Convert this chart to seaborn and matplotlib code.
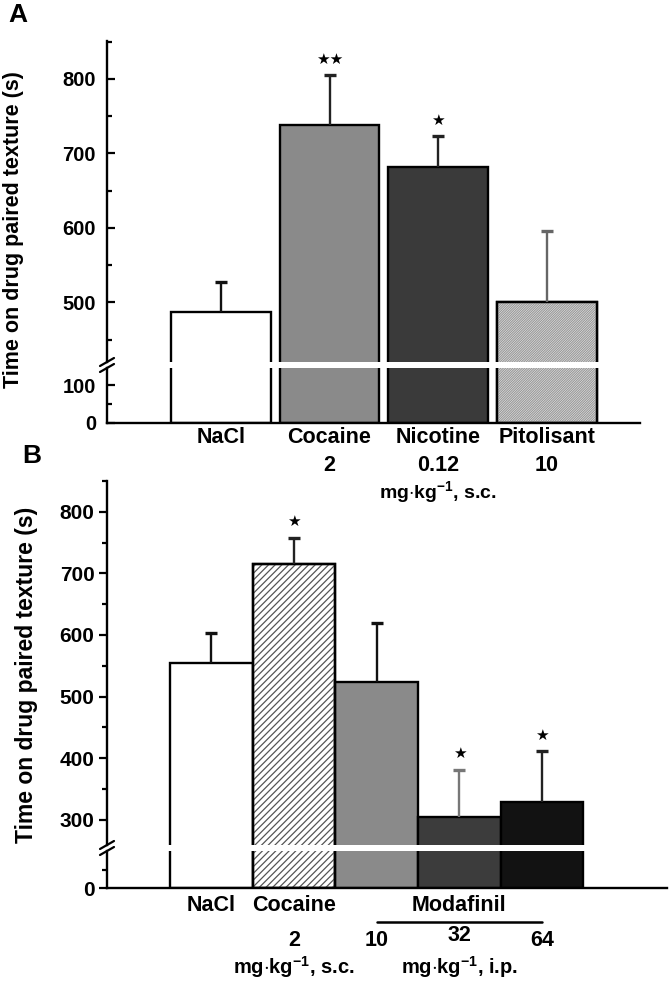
import numpy as np
import pandas as pd
import matplotlib
matplotlib.use("Agg")
import matplotlib.pyplot as plt
import matplotlib.transforms as mtransforms
from matplotlib.patches import Rectangle
import seaborn as sns

# ---------------- data ----------------
cats_a = ["NaCl", "Cocaine", "Nicotine", "Pitolisant"]
doses_a = ["", "2", "0.12", "10"]
mean_a = [487, 738, 682, 501]
sem_a = [40, 67, 41, 95]
stars_a = ["", "★★", "★", ""]

cats_b = ["NaCl", "Cocaine", "Modafinil 10", "Modafinil 32", "Modafinil 64"]
labels_b = ["NaCl", "Cocaine", "", "Modafinil", ""]
doses_b = ["", "2", "10", "32", "64"]
mean_b = [555, 716, 524, 305, 329]
sem_b = [48, 42, 95, 76, 82]
stars_b = ["", "★", "", "★", "★"]

ticks_a_up = [500, 600, 700, 800]
ticks_a_lo = [0, 100]
ticks_b_up = [300, 400, 500, 600, 700, 800]
ticks_b_lo = [0]

# ---------------- style ----------------
colors_a = ["#ffffff", "#8a8a8a", "#3a3a3a", "#ffffff"]
hatch_a = [None, None, None, "//////////////"]
hcol_a = [None, None, None, "#9a9a9a"]
colors_b = ["#ffffff", "#ffffff", "#8a8a8a", "#3c3c3c", "#121212"]
hatch_b = [None, "/////", None, None, None]
hcol_b = [None, "#555555", None, None, None]
errc_a = ["#111111", "#222222", "#222222", "#666666"]
errc_b = ["#111111", "#222222", "#111111", "#777777", "#222222"]

sns.set_theme(style="ticks")
plt.rcParams["font.family"] = ["Liberation Sans", "DejaVu Sans"]
plt.rcParams["font.weight"] = "bold"
plt.rcParams["text.color"] = "black"
plt.rcParams["axes.labelcolor"] = "black"
plt.rcParams["xtick.color"] = "black"
plt.rcParams["ytick.color"] = "black"
plt.rcParams["mathtext.fontset"] = "custom"
plt.rcParams["mathtext.rm"] = "Liberation Sans:bold"
plt.rcParams["mathtext.bf"] = "Liberation Sans:bold"
plt.rcParams["mathtext.default"] = "bf"
plt.rcParams["hatch.linewidth"] = 0.9

W, H = 670, 986
fig = plt.figure(figsize=(W / 100, H / 100), dpi=100)


def add_ax(x0, x1, ytop, ybot):
    ax = fig.add_axes([x0 / W, 1 - ybot / H, (x1 - x0) / W, (ybot - ytop) / H])
    ax.patch.set_alpha(0)
    return ax


def draw_bars(ax, cats, vals, colors, hatches, hcols, width, lw):
    df = pd.DataFrame({"cat": cats, "val": vals})
    sns.barplot(data=df, x="cat", y="val", hue="cat", palette=dict(zip(cats, colors)),
                legend=False, width=width, edgecolor="black", linewidth=lw,
                saturation=1, ax=ax, zorder=2)
    for p, h, hc in zip(list(ax.patches), hatches, hcols):
        if h:
            ax.add_patch(Rectangle((p.get_x(), p.get_y()), p.get_width(), p.get_height(),
                                   facecolor="none", edgecolor=hc, hatch=h,
                                   linewidth=0, zorder=2.1))
            ax.add_patch(Rectangle((p.get_x(), p.get_y()), p.get_width(), p.get_height(),
                                   facecolor="none", edgecolor="black", linewidth=lw,
                                   zorder=2.2))
    ax.set_xlabel("")
    ax.set_ylabel("")
    ax.tick_params(axis="x", length=0, labelbottom=False)


def style_y(ax, major, minor, direction, size):
    ax.set_yticks(major)
    ax.set_yticks(minor, minor=True)
    ax.tick_params(axis="y", which="major", direction=direction, length=6, width=1.6,
                   labelsize=size, pad=3 if direction == "out" else 8, color="black",
                   labelcolor="black")
    ax.tick_params(axis="y", which="minor", direction=direction, length=3.5, width=1.6,
                   color="black")
    for lab in ax.get_yticklabels():
        lab.set_fontweight("bold")
    for s in ["top", "right"]:
        ax.spines[s].set_visible(False)
    for s in ["left", "bottom"]:
        ax.spines[s].set_linewidth(1.7)
        ax.spines[s].set_color("black")


def errors(ax, vals, sems, ecols, stars, star_size):
    x = np.arange(len(vals))
    for xi, v, s, c, st in zip(x, vals, sems, ecols, stars):
        eb = ax.errorbar([xi], [v], yerr=[[0], [s]], fmt="none", ecolor=c, elinewidth=1.7,
                         capsize=4, capthick=2.4, zorder=3)
        eb[1][0].set_visible(False)
        if st:
            ax.annotate(st, xy=(xi, v + s), xytext=(0, 11.5), textcoords="offset points",
                        ha="center", va="center", fontsize=star_size, color="black",
                        family=["DejaVu Sans"], annotation_clip=False)


def under(ax, i, text, dy_pt, size):
    ax.annotate(text, xy=(i, 0), xycoords=("data", "axes fraction"),
                xytext=(0, dy_pt), textcoords="offset points", ha="center", va="center",
                fontsize=size, fontweight="bold", color="black", annotation_clip=False)


def break_mark(x_px, y_px):
    for dy in (-3, 3):
        fig.add_artist(plt.Line2D([(x_px - 7) / W, (x_px + 7) / W],
                                  [1 - (y_px + dy + 4) / H, 1 - (y_px + dy - 4) / H],
                                  color="black", linewidth=1.6))


# ---------------- panel A ----------------
axA = add_ax(107, 640, 41, 362)
axA2 = add_ax(107, 640, 368, 423)
for ax in (axA, axA2):
    draw_bars(ax, cats_a, mean_a, colors_a, hatch_a, hcol_a, 0.92, 1.7)
    ax.set_xlim(-1.05, 3.86)
axA.set_ylim(420, 851)
axA2.set_ylim(0, 145)
style_y(axA, ticks_a_up, [450, 550, 650, 750, 850], "in", 14.5)
style_y(axA2, ticks_a_lo, [50], "in", 14.5)
axA.spines["bottom"].set_visible(False)
errors(axA, mean_a, sem_a, errc_a, stars_a, 11)
for i, (c, d) in enumerate(zip(cats_a, doses_a)):
    under(axA2, i, c, -10.5, 15.5)
    if d:
        under(axA2, i, d, -30.5, 15.5)
under(axA2, 2, r"mg$\cdot$kg$^{-1}$, s.c.", -50, 14)
break_mark(107, 365)

# ---------------- panel B ----------------
axB = add_ax(107, 667, 481, 845)
axB2 = add_ax(107, 667, 851, 888)
for ax in (axB, axB2):
    draw_bars(ax, cats_b, mean_b, colors_b, hatch_b, hcol_b, 1.0, 1.7)
    ax.set_xlim(-1.26, 5.51)
axB.set_ylim(259, 850)
axB2.set_ylim(0, 103)
style_y(axB, ticks_b_up, [350, 450, 550, 650, 750, 850], "out", 15)
style_y(axB2, ticks_b_lo, [50], "out", 15)
axB.spines["bottom"].set_visible(False)
errors(axB, mean_b, sem_b, errc_b, stars_b, 11)
for i, (c, d) in enumerate(zip(labels_b, doses_b)):
    if c:
        under(axB2, i, c, -12.5, 15.5)
    if d:
        under(axB2, i, d, -34 if d == "32" else -37.5, 15.5)
tr = mtransforms.offset_copy(axB2.get_xaxis_transform(), fig=fig, y=-24.5, units="points")
axB2.plot([2, 4], [0, 0], color="black", linewidth=1.8, transform=tr, clip_on=False)
under(axB2, 1, r"mg$\cdot$kg$^{-1}$, s.c.", -57, 14.5)
under(axB2, 3, r"mg$\cdot$kg$^{-1}$, i.p.", -57, 14.5)
break_mark(107, 848)

# ---------------- labels ----------------
fig.text(14 / W, 1 - 230 / H, "Time on drug paired texture (s)", rotation=90,
         ha="center", va="center", fontsize=15.5, fontweight="bold", color="black")
fig.text(27 / W, 1 - 675 / H, "Time on drug paired texture (s)", rotation=90,
         ha="center", va="center", fontsize=16.5, fontweight="bold", color="black")
fig.text(18 / W, 1 - 15 / H, "A", ha="center", va="center", fontsize=19, fontweight="bold",
         color="black")
fig.text(32 / W, 1 - 456 / H, "B", ha="center", va="center", fontsize=19, fontweight="bold",
         color="black")

fig.savefig("out.png", dpi=100, facecolor="white")
